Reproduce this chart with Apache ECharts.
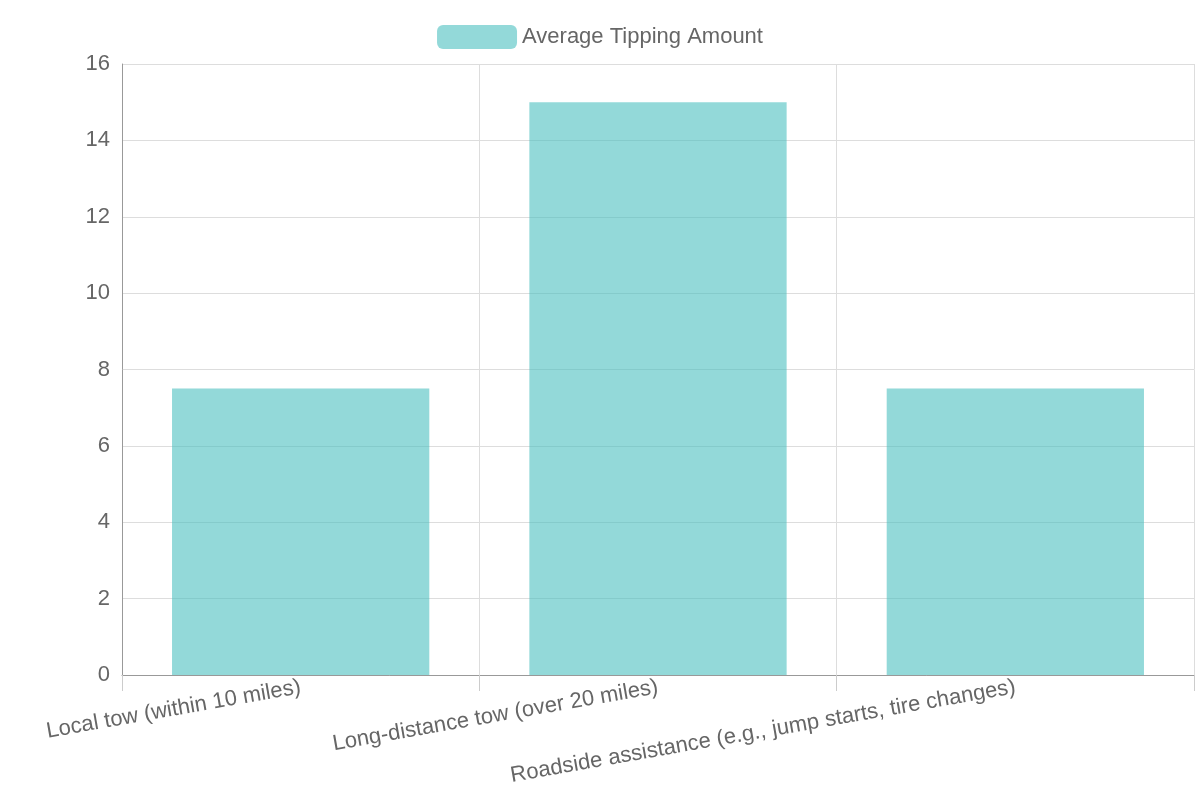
<!DOCTYPE html>
<html>
<head>
<meta charset="utf-8">
<script src="https://cdn.jsdelivr.net/npm/echarts@6/dist/echarts.min.js"></script>
<style>
  html, body { margin: 0; padding: 0; background: #fff; }
  #chart { width: 1200px; height: 800px; }
</style>
</head>
<body>
<div id="chart"></div>
<script>
/* 数据 */
const categories = [
    "Local tow (within 10 miles)",
    "Long-distance tow (over 20 miles)",
    "Roadside assistance (e.g., jump starts, tire changes)"
];
const tipValues = [7.5, 15, 7.5];
const seriesName = "Average Tipping Amount";

const chart = echarts.init(document.getElementById("chart"));

chart.setOption({
    animation: false,
    textStyle: { fontFamily: "Liberation Sans, Arial, sans-serif" },
    legend: {
        top: 20,
        left: "center",
        itemWidth: 80,
        itemHeight: 24,
        itemGap: 12,
        textStyle: { fontSize: 22, color: "#666" },
        data: [seriesName]
    },
    grid: { left: 122, right: 6, top: 64, bottom: 125 },
    xAxis: {
        type: "category",
        data: categories,
        axisLine: { lineStyle: { color: "#999" } },
        axisTick: { show: true, length: 16, lineStyle: { color: "#ccc" } },
        splitLine: { show: true, lineStyle: { color: "#ddd" } },
        axisLabel: { rotate: 10, fontSize: 22, color: "#666", margin: 12, interval: 0 }
    },
    yAxis: {
        type: "value",
        min: 0,
        max: 16,
        interval: 2,
        axisLine: { show: true, lineStyle: { color: "#999" } },
        axisTick: { show: false },
        splitLine: { lineStyle: { color: "#ddd" } },
        axisLabel: { fontSize: 22, color: "#666", margin: 12 }
    },
    series: [
        {
            name: seriesName,
            type: "bar",
            data: tipValues,
            barWidth: "72%",
            itemStyle: { color: "rgba(75,192,192,0.6)" }
        }
    ]
});
</script>
</body>
</html>
